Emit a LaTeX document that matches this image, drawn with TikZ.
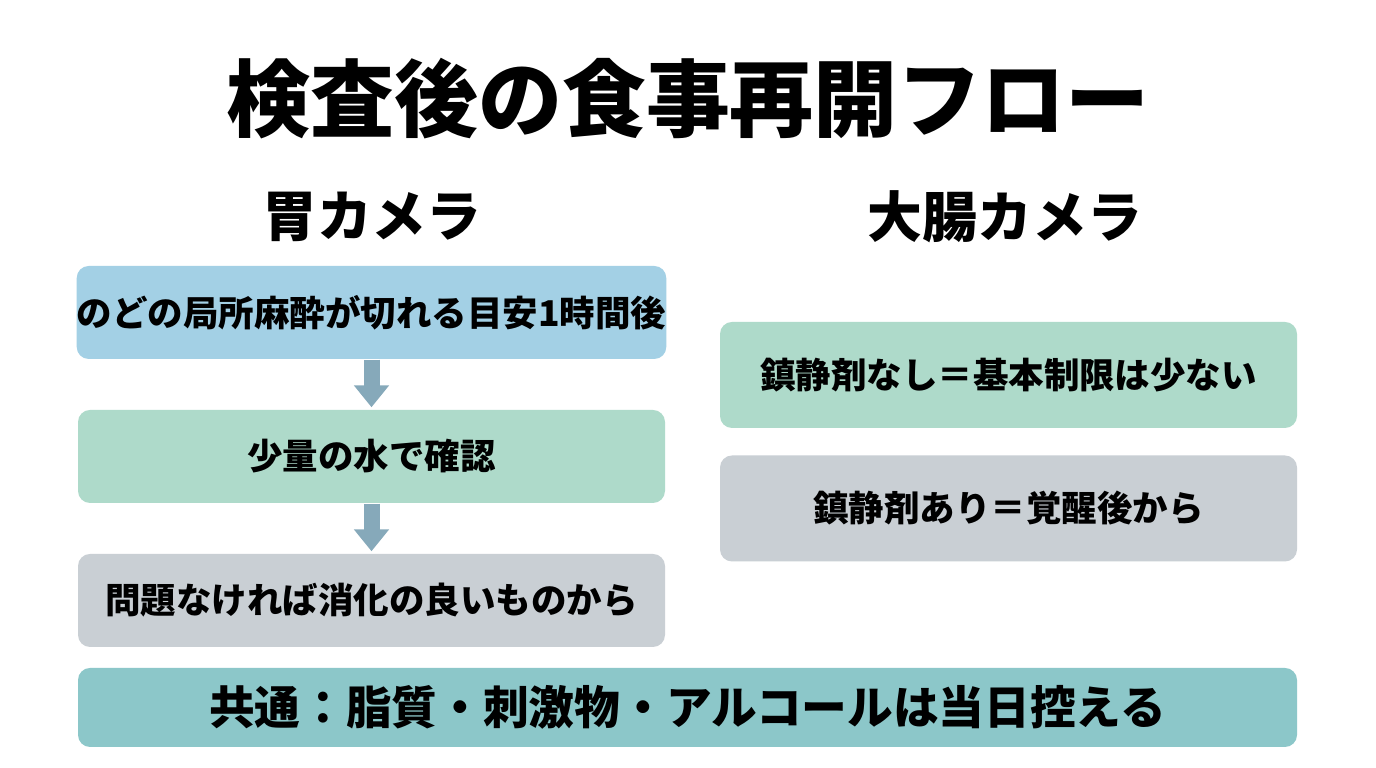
\documentclass[tikz,border=0pt]{standalone}
\usepackage{fontspec}
\setmainfont{Noto Sans CJK JP}
\usetikzlibrary{arrows.meta}

\definecolor{boxblue}{RGB}{163,208,229}
\definecolor{boxgreen}{RGB}{174,218,202}
\definecolor{boxgray}{RGB}{201,207,212}
\definecolor{boxteal}{RGB}{140,199,201}
\definecolor{flowarrow}{RGB}{134,169,186}

\tikzset{
  stepbox/.style={fill=#1, rounded corners=0.12cm, align=center,
    font=\fontsize{10.1pt}{12pt}\selectfont\bfseries, inner sep=0pt},
  leftbox/.style={stepbox=#1, minimum width=5.87cm, minimum height=0.93cm},
  rightbox/.style={stepbox=#1, minimum width=5.77cm, minimum height=1.06cm},
  flow/.style={draw=flowarrow, line width=0.16cm,
    -{Triangle[width=0.34cm,length=0.22cm]}, shorten >=0.02cm}
}

\begin{document}
\begin{tikzpicture}
    \useasboundingbox[fill=white] (0,0) rectangle (13.76,7.68);

    % Title
    \node[font=\fontsize{23.9pt}{26pt}\selectfont\bfseries] (title) at (6.88,6.69) {検査後の食事再開フロー};

    % Column headings
    \node[font=\fontsize{15.6pt}{18pt}\selectfont\bfseries] (gastro) at (3.72,5.51) {胃カメラ};
    \node[font=\fontsize{15.6pt}{18pt}\selectfont\bfseries] (colono) at (10.05,5.51) {大腸カメラ};

    % Left column: stomach
    \node[leftbox=boxblue]  (thaw)  at (3.715,4.555) {のどの局所麻酔が切れる目安1時間後};
    \node[leftbox=boxgreen] (water) at (3.715,3.115) {少量の水で確認};
    \node[leftbox=boxgray]  (food)  at (3.715,1.675) {問題なければ消化の良いものから};

    \draw[flow] (thaw.south) -- (water.north);
    \draw[flow] (water.south) -- (food.north);

    % Right column: colon
    \node[rightbox=boxgreen] (nosed) at (10.085,3.93)  {鎮静剤なし＝基本制限は少ない};
    \node[rightbox=boxgray]  (sed)   at (10.085,2.595) {鎮静剤あり＝覚醒後から};

    % Common note
    \node[stepbox=boxteal, minimum width=12.19cm, minimum height=0.79cm,
          font=\fontsize{13pt}{16pt}\selectfont\bfseries] (common) at (6.875,0.605)
          {共通：脂質・刺激物・アルコールは当日控える};
\end{tikzpicture}
\end{document}
